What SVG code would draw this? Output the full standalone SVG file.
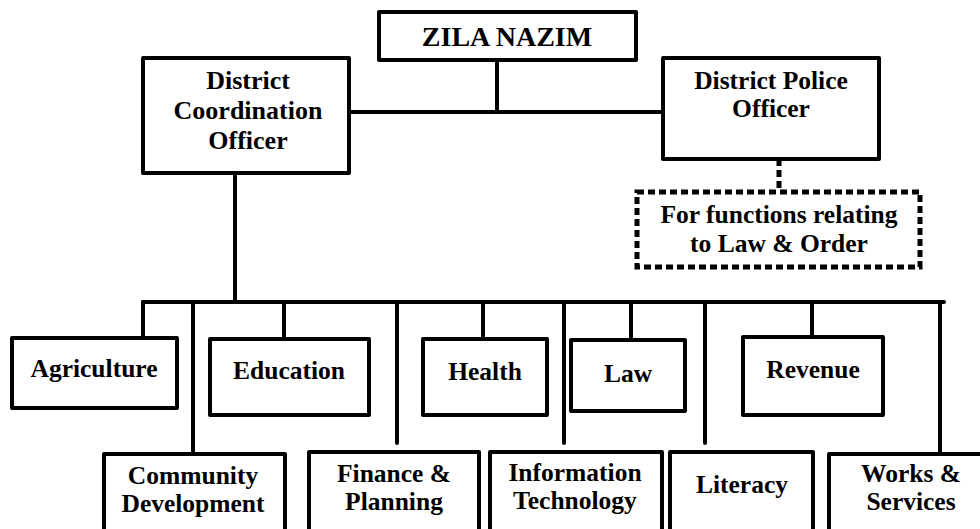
<svg xmlns="http://www.w3.org/2000/svg" width="980" height="529" viewBox="0 0 980 529">
<style>
.box{fill:#fff;stroke:#000;stroke-width:4;stroke-linejoin:round}
.dot{fill:#fff;stroke:#000;stroke-width:5;stroke-dasharray:7 4}
.ln{fill:none;stroke:#000;stroke-width:4;stroke-linecap:round}
.dl{fill:none;stroke:#000;stroke-width:5;stroke-dasharray:7 4}
text{font-family:"Liberation Serif","Times New Roman",serif;font-weight:bold;font-size:25.5px;text-anchor:middle;fill:#000}
.t27{font-size:28px}
.t25{font-size:26px}
</style>
<rect width="980" height="529" fill="#fff"/>
<g id="connectors">
<path class="ln" d="M497 60V112M349 112H663"/>
<path class="dl" d="M779 159V192"/>
<path class="ln" d="M235 173V302M143 302H944"/>
<path class="ln" d="M143 302V337M193 302V453M284 302V339M397 302V443M483 302V339M564 302V443M631 302V339M705 302V443M812 302V335M940 302V453"/>
</g>
<g id="zila"><rect class="box" x="379" y="12" width="257" height="48"/><text class="t27" x="507" y="46">ZILA NAZIM</text></g>
<g id="dco"><rect class="box" x="143" y="58" width="206" height="115"/><text class="t25" x="248" y="89">District</text><text class="t25" x="248" y="119">Coordination</text><text class="t25" x="248" y="149">Officer</text></g>
<g id="dpo"><rect class="box" x="663" y="58" width="216" height="101"/><text x="771" y="89">District Police</text><text x="771" y="117">Officer</text></g>
<g id="laworder"><rect class="dot" x="637" y="192" width="283" height="75"/><text x="779" y="223">For functions relating</text><text x="779" y="252">to Law &amp; Order</text></g>
<g id="agriculture"><rect class="box" x="12" y="338" width="165" height="70"/><text x="94" y="377">Agriculture</text></g>
<g id="education"><rect class="box" x="210" y="339" width="159" height="76"/><text x="289" y="379">Education</text></g>
<g id="health"><rect class="box" x="423" y="339" width="124" height="76"/><text x="485" y="380">Health</text></g>
<g id="law"><rect class="box" x="571" y="340" width="114" height="71"/><text x="628" y="382">Law</text></g>
<g id="revenue"><rect class="box" x="743" y="337" width="140" height="78"/><text x="813" y="378">Revenue</text></g>
<g id="community"><rect class="box" x="104" y="454" width="181" height="90"/><text x="193" y="484">Community</text><text x="193" y="512">Development</text></g>
<g id="finance"><rect class="box" x="309" y="452" width="170" height="92"/><text x="394" y="482">Finance &amp;</text><text x="394" y="510">Planning</text></g>
<g id="it"><rect class="box" x="490" y="452" width="172" height="92"/><text x="575" y="481">Information</text><text x="575" y="509">Technology</text></g>
<g id="literacy"><rect class="box" x="670" y="452" width="143" height="92"/><text x="742" y="493">Literacy</text></g>
<g id="works"><rect class="box" x="829" y="454" width="170" height="90"/><text x="911" y="482">Works &amp;</text><text x="911" y="510">Services</text></g>
</svg>
